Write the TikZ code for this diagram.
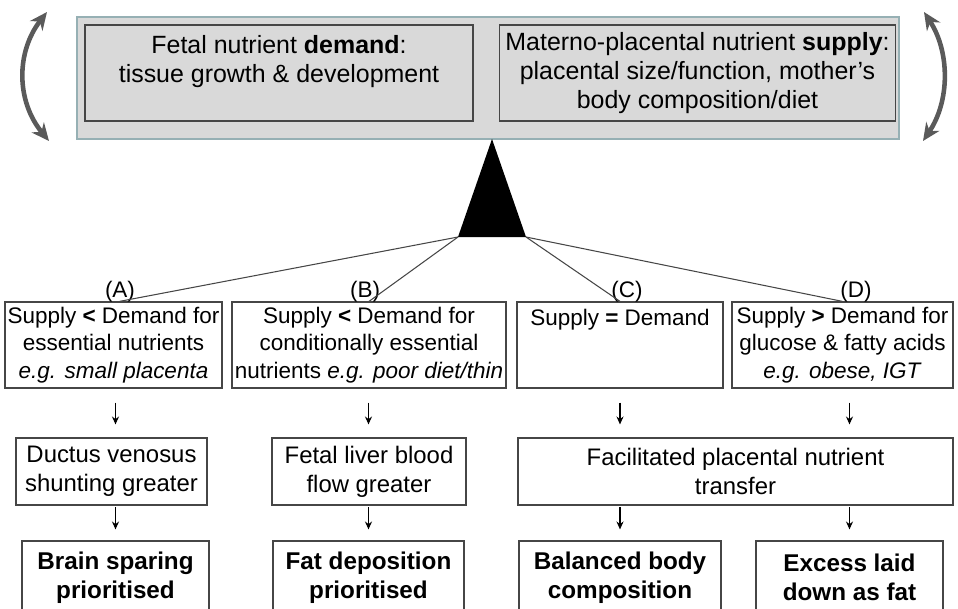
\documentclass[tikz,border=0pt]{standalone}
\usepackage{fontspec}
\setmainfont{Liberation Sans}
\usetikzlibrary{arrows.meta}

\definecolor{panelfill}{RGB}{217,217,217}
\definecolor{panelrim}{RGB}{150,176,180}
\definecolor{swinggray}{RGB}{90,90,90}
\definecolor{rimgray}{RGB}{70,70,70}

\begin{document}
\begin{tikzpicture}[
    x=0.02cm, y=-0.02cm,
    panel/.style={draw=panelrim, fill=panelfill, line width=1.2pt, minimum width=16.44cm, minimum height=2.44cm},
    innerbox/.style={draw=rimgray, line width=0.8pt, minimum height=1.92cm, align=center, font=\fontsize{14.2}{16.5}\selectfont},
    casebox/.style={draw=rimgray, line width=0.7pt, minimum height=1.72cm, align=center, inner sep=0.5pt, font=\fontsize{12.8}{15.5}\selectfont},
    routebox/.style={draw=rimgray, line width=0.7pt, minimum height=1.34cm, align=center, font=\fontsize{13.6}{16.5}\selectfont},
    outcomebox/.style={routebox, minimum height=1.46cm, font=\fontsize{13.8}{16.5}\selectfont\bfseries},
    caselabel/.style={font=\fontsize{12.8}{14}\selectfont, inner sep=0pt},
    spoke/.style={draw=rimgray, line width=0.6pt},
    flowarrow/.style={-{Stealth[length=4.5pt, width=4pt]}, line width=0.6pt},
    swingarrow/.style={{Stealth[length=10pt, width=9pt]}-{Stealth[length=10pt, width=9pt]}, draw=swinggray, line width=2.6pt}
]
\useasboundingbox (0,0) rectangle (958,609);

% balance beam at the top
\node[panel] (panel) at (488,78) {};
\node[innerbox, minimum width=7.76cm] (demand) at (279,73) {Fetal nutrient \textbf{demand}:\\ tissue growth \& development\\ ~};
\node[innerbox, minimum width=7.78cm] (supply) at (697.5,73) {Materno-placental nutrient \textbf{supply}:\\ placental size/function, mother’s\\ body composition/diet};

% see-saw arrows
\coordinate (swingLtop) at (47,12);
\coordinate (swingLbot) at (49,141);
\coordinate (swingRtop) at (924,12);
\coordinate (swingRbot) at (923,141);
\draw[swingarrow] (swingLtop) .. controls (16,52) and (16,101) .. (swingLbot);
\draw[swingarrow] (swingRtop) .. controls (950,52) and (950,101) .. (swingRbot);

% fulcrum
\coordinate (apex) at (492,139);
\coordinate (tipL) at (458,237);
\coordinate (tipR) at (526,237);
\fill (apex) -- (tipL) -- (tipR) -- cycle;

% cases
\node[casebox, minimum width=4.34cm] (caseA) at (113.5,345) {Supply \textbf{<} Demand for\\ essential nutrients\\ \textit{e.g. small placenta}};
\node[casebox, minimum width=5.48cm] (caseB) at (369,345) {Supply \textbf{<} Demand for\\ conditionally essential\\ nutrients \textit{e.g. poor diet/thin}};
\node[casebox, minimum width=4.12cm] (caseC) at (620,345) {Supply \textbf{=} Demand\\ ~\\ ~};
\node[casebox, minimum width=4.42cm] (caseD) at (842.5,345) {Supply \textbf{>} Demand for\\ glucose \& fatty acids\\ \textit{e.g. obese, IGT}};

\node[caselabel] (labA) at (120,292) {(A)};
\node[caselabel] (labB) at (365,292) {(B)};
\node[caselabel] (labC) at (627,292) {(C)};
\node[caselabel] (labD) at (856,292) {(D)};

% routes
\node[routebox, minimum width=3.82cm] (routeA) at (111.5,471.5) {Ductus venosus\\ shunting greater};
\node[routebox, minimum width=3.88cm] (routeB) at (369,471.5) {Fetal liver blood\\ flow greater};
\node[routebox, minimum width=8.7cm] (routeF) at (735.5,471.5) {Facilitated placental nutrient\\ transfer};

% outcomes
\node[outcomebox, minimum width=3.74cm] (outcomeA) at (115.5,577.5) {Brain sparing\\ prioritised};
\node[outcomebox, minimum width=3.82cm] (outcomeB) at (368.5,577.5) {Fat deposition\\ prioritised};
\node[outcomebox, minimum width=4.04cm] (outcomeC) at (620,577.5) {Balanced body\\ composition};
\node[outcomebox, minimum width=3.74cm] (outcomeD) at (849.5,577.5) {Excess laid\\ down as fat};

% spokes from the fulcrum
\draw[spoke] (tipL) -- ([xshift=0.12cm]caseA.north);
\draw[spoke] (tipL) -- (caseB.north);
\draw[spoke] (tipR) -- (caseC.north);
\draw[spoke] (tipR) -- (caseD.north);

% down arrows
\foreach \col/\route in {A/routeA, B/routeB, C/routeF, D/routeF} {
  \draw[flowarrow, shorten <=0.28cm, shorten >=0.26cm] (outcome\col.north |- case\col.south) -- (outcome\col.north |- \route.north);
  \draw[flowarrow, shorten <=1pt, shorten >=0.22cm] (outcome\col.north |- \route.south) -- (outcome\col.north);
}
\end{tikzpicture}
\end{document}
